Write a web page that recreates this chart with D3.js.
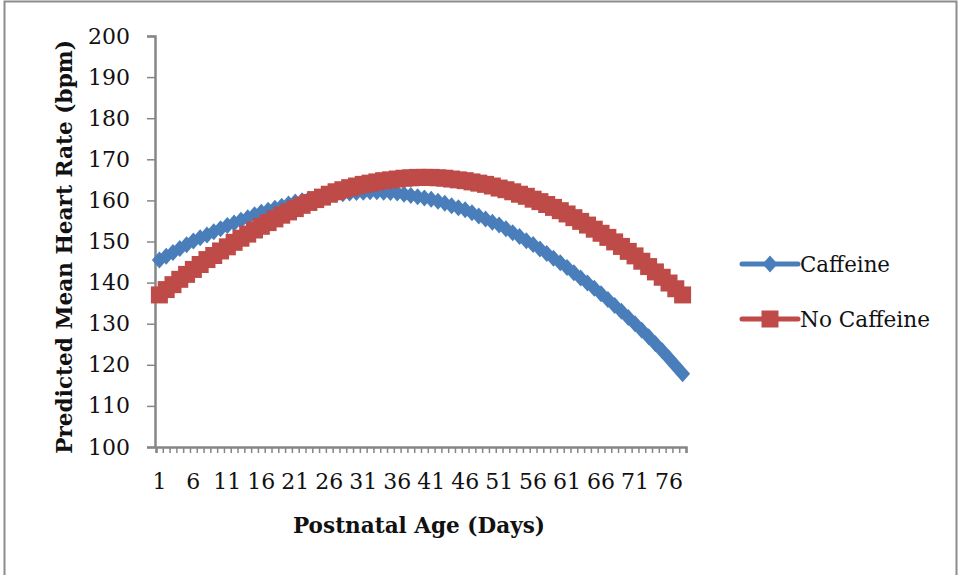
<!DOCTYPE html>
<html>
<head>
<meta charset="utf-8">
<script src="https://cdn.jsdelivr.net/npm/d3@7"></script>
<style>
  html, body { margin: 0; padding: 0; background: #fff; }
  svg { display: block; font-family: "DejaVu Serif", "Liberation Serif", serif; }
</style>
</head>
<body>
<div id="chart"></div>
<script>
"use strict";

const days = d3.range(1, 79);
const xTickLabels = [1, 6, 11, 16, 21, 26, 31, 36, 41, 46, 51, 56, 61, 66, 71, 76];
const yTicks = [100, 110, 120, 130, 140, 150, 160, 170, 180, 190, 200];

const caffeine = [
  145.5, 146.4, 147.3, 148.3, 149.2, 150.1, 150.9, 151.6, 152.4, 153.1,
  153.9, 154.5, 155.2, 155.8, 156.5, 157.1, 157.6, 158.1, 158.6, 159.1,
  159.6, 159.9, 160.3, 160.6, 161.0, 161.3, 161.5, 161.6, 161.8, 161.9,
  162.0, 162.1, 162.1, 162.0, 161.9, 161.8, 161.5, 161.2, 160.9, 160.6,
  160.3, 159.8, 159.3, 158.7, 158.2, 157.7, 157.0, 156.2, 155.5, 154.7,
  154.0, 153.1, 152.1, 151.2, 150.2, 149.3, 148.2, 147.1, 145.9, 144.8,
  143.7, 142.4, 141.1, 139.9, 138.6, 137.3, 135.9, 134.4, 133.0, 131.5,
  130.0, 128.4, 126.8, 125.1, 123.4, 121.6, 119.7, 117.8
];

const noCaffeine = [
  137.0, 138.3, 139.5, 140.8, 142.0, 143.2, 144.4, 145.6, 146.6, 147.7,
  148.7, 149.8, 150.8, 151.8, 152.8, 153.7, 154.6, 155.5, 156.4, 157.2,
  158.0, 158.8, 159.5, 160.2, 160.8, 161.5, 162.1, 162.6, 163.1, 163.5,
  163.9, 164.2, 164.5, 164.8, 165.0, 165.2, 165.4, 165.5, 165.6, 165.6,
  165.6, 165.5, 165.4, 165.2, 165.0, 164.8, 164.5, 164.2, 163.9, 163.5,
  163.0, 162.6, 162.1, 161.5, 161.0, 160.3, 159.7, 159.0, 158.3, 157.5,
  156.7, 155.8, 154.9, 154.0, 153.0, 152.0, 151.0, 149.9, 148.8, 147.6,
  146.5, 145.2, 143.9, 142.6, 141.3, 139.9, 138.5, 137.0
];

const seriesNames = ["Caffeine", "No Caffeine"];
const colors = ["#4a7ebb", "#be4b48"];

const width = 958;
const height = 575;
const plot = { left: 156, right: 686, top: 36, bottom: 447 };
const axisColor = "#868686";
const textColor = "#111";

const svg = d3.select("#chart")
  .append("svg")
  .attr("width", width)
  .attr("height", height)
;

// scale font size so the text spans the width seen in the original
function fitWidth(sel, target) {
  const w = sel.node().getComputedTextLength();
  const fs = parseFloat(sel.attr("font-size"));
  sel.attr("font-size", (fs * target / w).toFixed(2));
}

// outer frame (bottom edge is cut off in the original)
svg.append("path")
  .attr("d", `M4.5,${height} V1.5 H956.5 V${height}`)
  .attr("fill", "none")
  .attr("stroke", "#8c8c8c")
  .attr("stroke-width", 2)
;

const x = d3.scaleBand()
  .domain(days)
  .range([plot.left, plot.right])
  .padding(0)
;
const xEdge = d3.scaleLinear()
  .domain([0.5, days.length + 0.5])
  .range([plot.left, plot.right])
;
const y = d3.scaleLinear()
  .domain([100, 200])
  .range([plot.bottom, plot.top])
;

const cx = d => x(d) + x.bandwidth() / 2;

// y axis
const yAxis = svg.append("g")
  .attr("transform", `translate(${plot.left - 1}, 0)`)
  .call(d3.axisLeft(y).tickValues(yTicks).tickSize(8).tickPadding(17))
;
yAxis.selectAll("text")
  .attr("font-size", 22)
  .attr("fill", textColor)
  .attr("font-family", "DejaVu Serif, serif")
;

// x axis: minor ticks between each category
svg.append("g")
  .attr("transform", `translate(0, ${plot.bottom})`)
  .call(d3.axisBottom(xEdge).tickValues(d3.range(0.5, days.length + 1, 1)).tickSize(6).tickFormat(""))
;
const xLabelAxis = svg.append("g")
  .attr("transform", `translate(0, ${plot.bottom})`)
  .call(d3.axisBottom(x).tickValues(xTickLabels).tickSize(0).tickPadding(26))
;
xLabelAxis.select(".domain").remove();
xLabelAxis.selectAll("text")
  .attr("font-size", 22)
  .attr("fill", textColor)
  .attr("font-family", "DejaVu Serif, serif")
;

svg.selectAll(".domain")
  .attr("stroke", axisColor)
  .attr("stroke-width", 2.5)
;
svg.selectAll(".tick line")
  .attr("stroke", axisColor)
  .attr("stroke-width", 1.5)
;

// axis titles
const xTitle = svg.append("text")
  .attr("x", 419)
  .attr("y", 533)
  .attr("text-anchor", "middle")
  .attr("font-size", 20)
  .attr("font-weight", "bold")
  .attr("fill", textColor)
  .text("Postnatal Age (Days)")
;
fitWidth(xTitle, 252);

const yTitle = svg.append("text")
  .attr("transform", `translate(72, 247) rotate(-90)`)
  .attr("text-anchor", "middle")
  .attr("font-size", 20)
  .attr("font-weight", "bold")
  .attr("fill", textColor)
  .text("Predicted Mean Heart Rate (bpm)")
;
fitWidth(yTitle, 414);

// series
const diamond = "M0,-8.5 L7.5,0 L0,8.5 L-7.5,0 Z";
const square = "M-8.5,-8.5 H8.5 V8.5 H-8.5 Z";
const shapes = [diamond, square];
const allSeries = [caffeine, noCaffeine];

const line = d3.line()
  .x((d, i) => cx(days[i]))
  .y(d => y(d))
;

allSeries.forEach((vals, s) => {
  svg.append("path")
    .datum(vals)
    .attr("d", line)
    .attr("fill", "none")
    .attr("stroke", colors[s])
    .attr("stroke-width", 4)
  ;
  svg.append("g")
    .selectAll("path")
    .data(vals)
    .enter()
    .append("path")
    .attr("d", shapes[s])
    .attr("transform", (d, i) => `translate(${cx(days[i])}, ${y(d)})`)
    .attr("fill", colors[s])
  ;
});

// legend
const legendY = [264, 319];
const legendWidths = [90, 130];
seriesNames.forEach((name, s) => {
  const g = svg.append("g").attr("transform", `translate(742, ${legendY[s]})`);
  g.append("line")
    .attr("x1", 0).attr("x2", 56)
    .attr("stroke", colors[s])
    .attr("stroke-width", 5)
    .attr("stroke-linecap", "round")
  ;
  g.append("path")
    .attr("d", shapes[s])
    .attr("transform", "translate(28, 0)")
    .attr("fill", colors[s])
  ;
  const t = g.append("text")
    .attr("x", 58)
    .attr("y", 8)
    .attr("font-size", 20)
    .attr("fill", textColor)
    .text(name)
  ;
  fitWidth(t, legendWidths[s]);
});
</script>
</body>
</html>
